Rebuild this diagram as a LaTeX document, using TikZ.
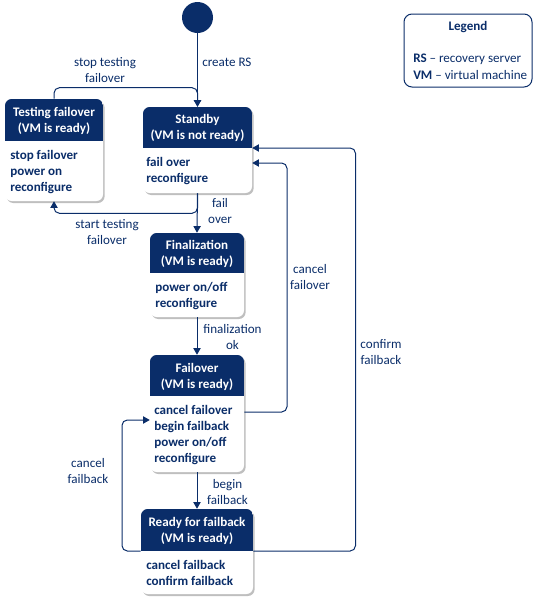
\documentclass[tikz,border=0pt]{standalone}
\usepackage{fontspec}
\setmainfont{Carlito}
\usetikzlibrary{arrows.meta,shadows,fit}
\definecolor{navy}{RGB}{10,45,105}
\newcommand\stbox[6]{%
  \node[stshape, fit={(#2,#3) (#4,#5)}] (#1) {};
  \begin{scope}
    \clip[rounded corners=5pt] (#2,#3) rectangle (#4,#5);
    \fill[navy] (#2,#3) rectangle (#4,#6);
  \end{scope}}
\begin{document}
\begin{tikzpicture}[x=0.75pt,y=-0.75pt,
  every node/.style={font=\fontsize{9.8}{12}\selectfont, text=navy},
  stshape/.style={inner sep=0pt, fill=white, rounded corners=5pt,
    drop shadow={shadow xshift=1.2pt, shadow yshift=-1.5pt, opacity=0.25, fill=black}},
  hdr/.style={align=center, text=white, inner sep=0pt, font=\fontsize{9.8}{12}\selectfont\bfseries},
  bodytxt/.style={align=left, anchor=north west, inner sep=0pt, font=\fontsize{9.8}{12}\selectfont\bfseries},
  lbl/.style={align=center, inner sep=0pt},
  conn/.style={draw=navy, line width=0.75pt, -{Triangle[length=5pt,width=5.5pt]}, rounded corners=4pt},
  ]
\useasboundingbox (0,0) rectangle (534,604);

% initial state
\node[circle, fill=navy, minimum size=23.25pt, inner sep=0pt] (init) at (197.5,17.5) {};

% states
\stbox{std}{143}{107}{252}{193}{148}
\node[hdr] (stdh) at (197.5,128) {Standby\\(VM is not ready)};
\node[bodytxt] (stdb) at (146,157.5) {fail over\\reconfigure};

\stbox{tst}{5}{99}{103}{201}{141}
\node[hdr] (tsth) at (54,120.5) {Testing failover\\(VM is ready)};
\node[bodytxt] (tstb) at (10,150.5) {stop failover\\power on\\reconfigure};

\stbox{fin}{150}{233}{244}{317}{273}
\node[hdr] (finh) at (197,253.5) {Finalization\\(VM is ready)};
\node[bodytxt] (finb) at (155,282.5) {power on/off\\reconfigure};

\stbox{fo}{150}{355}{244}{472}{396}
\node[hdr] (foh) at (197,376.5) {Failover\\(VM is ready)};
\node[bodytxt] (fob) at (154,405.5) {cancel failover\\begin failback\\power on/off\\reconfigure};

\stbox{rdy}{141}{509}{253}{594}{551}
\node[hdr] (rdyh) at (197,530.5) {Ready for failback\\(VM is ready)};
\node[bodytxt] (rdyb) at (146,560.5) {cancel failback\\confirm failback};

% legend
\node[draw=navy, line width=0.75pt, rounded corners=6pt, inner sep=0pt, fit={(404,14) (532,87)}] (leg) {};
\node[font=\fontsize{9.8}{12}\selectfont\bfseries] (legt) at (468,27.5) {Legend};
\node[anchor=west, inner sep=0pt] (leg1) at (413,59.5) {\textbf{RS} -- recovery server};
\node[anchor=west, inner sep=0pt] (leg2) at (413,75) {\textbf{VM} -- virtual machine};

% connectors
\draw[conn] (init) -- (std.north);
\draw[conn] (tst.north) -- ++(0,-11) -| (std.north);
\draw[conn] (std.south) -- ++(0,20) -| (tst.south);
\draw[conn] (std.south) -- (fin.north);
\draw[conn] (fin.south) -- (fo.north);
\draw[conn] (fo.south) -- (rdy.north);
\draw[conn] (fo.east |- 0,412) -- (287,412) -- (287,163) -- (std.east |- 0,163);
\draw[conn] (rdy.east |- 0,551) -- (355.5,551) -- (355.5,148) -- (std.east |- 0,148);
\draw[conn] (rdy.west |- 0,551) -- (122,551) -- (122,420) -- (fo.west |- 0,420);

% labels
\node[anchor=west, inner sep=0pt] (l1) at (202,62.5) {create RS};
\node[lbl] (l2) at (105,70) {stop testing\\failover};
\node[lbl] (l3) at (107,232.5) {start testing\\failover};
\node[lbl] (l4) at (220,211.5) {fail\\over};
\node[lbl] (l5) at (232.5,337.5) {finalization\\ok};
\node[lbl] (l6) at (310,277.5) {cancel\\failover};
\node[lbl] (l7) at (381,352) {confirm\\failback};
\node[lbl] (l8) at (227.5,492) {begin\\failback};
\node[lbl] (l9) at (88,471.5) {cancel\\failback};
\end{tikzpicture}
\end{document}
